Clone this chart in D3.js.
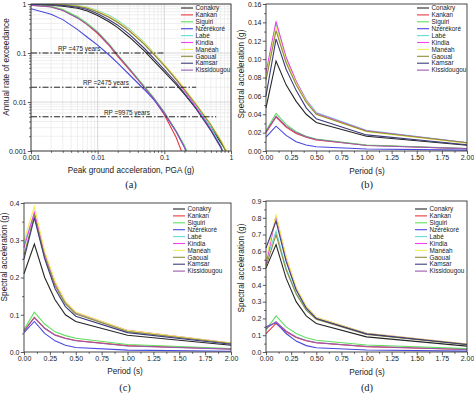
<!DOCTYPE html>
<html>
<head>
<meta charset="utf-8">
<script src="https://cdn.jsdelivr.net/npm/d3@7"></script>
<style>
  body { margin: 0; background: #fff; }
  text { font-family: "Liberation Sans", Arial, sans-serif; }
</style>
</head>
<body>
<script>
// Stations and their line colours
var stations = ["Conakry", "Kankan", "Siguiri", "Nzérékoré", "Labé", "Kindia", "Manéah", "Gaoual", "Kamsar", "Kissidougou"];
var colors = ["#262626", "#e8383d", "#5ee05e", "#4848e0", "#62dede", "#ee44ee", "#f2ee5c", "#8c8c3a", "#3c3c7c", "#9a5ab0"];

// (a) hazard curves: annual rate of exceedance at each PGA level
var pgaLevels = [0.001, 0.002, 0.003, 0.005, 0.007, 0.01, 0.015, 0.02, 0.03, 0.05, 0.07, 0.1, 0.15, 0.2, 0.3, 0.5, 0.7, 1.0];
var hazardRates = [
  [0.97, 0.94, 0.90, 0.82, 0.72, 0.58, 0.43, 0.33, 0.21, 0.11, 0.068, 0.041, 0.023, 0.0145, 0.0074, 0.003, 0.0015, 0.0007],      // Conakry
  [0.95, 0.88, 0.75, 0.52, 0.38, 0.25, 0.14, 0.085, 0.045, 0.02, 0.0115, 0.0055, 0.0019, 0.0007, 0.0001, 0.00001, 0.000001, 0.0000001], // Kankan
  [0.96, 0.90, 0.77, 0.55, 0.40, 0.27, 0.15, 0.092, 0.048, 0.021, 0.012, 0.0062, 0.0026, 0.0013, 0.00035, 0.00003, 0.000003, 0.0000003], // Siguiri
  [0.80, 0.62, 0.48, 0.30, 0.21, 0.145, 0.09, 0.062, 0.036, 0.018, 0.011, 0.0058, 0.0025, 0.0012, 0.0003, 0.00003, 0.000003, 0.0000003], // Nzérékoré
  [0.99, 0.98, 0.97, 0.93, 0.86, 0.74, 0.58, 0.46, 0.31, 0.165, 0.10, 0.058, 0.030, 0.018, 0.0085, 0.003, 0.0013, 0.0004],     // Labé
  [0.99, 0.97, 0.95, 0.90, 0.83, 0.70, 0.54, 0.43, 0.29, 0.155, 0.095, 0.056, 0.029, 0.017, 0.0078, 0.0027, 0.0012, 0.0004],   // Kindia
  [0.99, 0.98, 0.96, 0.92, 0.85, 0.72, 0.56, 0.44, 0.30, 0.16, 0.098, 0.058, 0.031, 0.019, 0.0092, 0.0035, 0.0017, 0.0007],    // Manéah
  [0.99, 0.97, 0.95, 0.90, 0.82, 0.69, 0.53, 0.42, 0.28, 0.15, 0.093, 0.055, 0.029, 0.018, 0.0088, 0.0034, 0.0016, 0.0006],    // Gaoual
  [0.98, 0.96, 0.93, 0.86, 0.77, 0.63, 0.47, 0.37, 0.24, 0.125, 0.077, 0.046, 0.025, 0.015, 0.0072, 0.0026, 0.0012, 0.0004],   // Kamsar
  [0.95, 0.87, 0.74, 0.52, 0.38, 0.26, 0.145, 0.09, 0.047, 0.02, 0.0118, 0.006, 0.0025, 0.0012, 0.0003, 0.00003, 0.000003, 0.0000003] // Kissidougou
];

// Return-period reference lines in (a)
var rpRates = [0.1, 0.02, 0.005];
var rpEndPga = [0.1, 0.3, 0.6];
var rpLabels = ["RP =475 years", "RP =2475 years", "RP =9975 years"];

// (b), (c), (d) uniform hazard spectra
var periods = [0, 0.1, 0.2, 0.3, 0.4, 0.5, 1.0, 2.0];
var sa475 = [
  [0.047, 0.098, 0.072, 0.054, 0.040, 0.031, 0.016, 0.0062],
  [0.020, 0.037, 0.026, 0.019, 0.015, 0.012, 0.0062, 0.0024],
  [0.022, 0.041, 0.029, 0.021, 0.016, 0.013, 0.0066, 0.0027],
  [0.015, 0.027, 0.017, 0.010, 0.0065, 0.0047, 0.0022, 0.0009],
  [0.082, 0.139, 0.101, 0.076, 0.056, 0.042, 0.0225, 0.0092],
  [0.085, 0.141, 0.102, 0.076, 0.055, 0.041, 0.022, 0.0088],
  [0.080, 0.135, 0.098, 0.074, 0.054, 0.040, 0.021, 0.0085],
  [0.077, 0.131, 0.096, 0.072, 0.053, 0.040, 0.0215, 0.009],
  [0.060, 0.122, 0.089, 0.066, 0.047, 0.035, 0.0175, 0.0068],
  [0.021, 0.038, 0.027, 0.020, 0.0155, 0.0125, 0.006, 0.0026]
];
var sa2475 = [
  [0.21, 0.29, 0.20, 0.14, 0.10, 0.082, 0.045, 0.018],
  [0.057, 0.093, 0.064, 0.046, 0.037, 0.031, 0.017, 0.008],
  [0.060, 0.107, 0.075, 0.054, 0.044, 0.037, 0.020, 0.0095],
  [0.052, 0.082, 0.050, 0.030, 0.018, 0.012, 0.005, 0.002],
  [0.29, 0.37, 0.26, 0.18, 0.13, 0.104, 0.057, 0.023],
  [0.28, 0.375, 0.265, 0.185, 0.135, 0.106, 0.058, 0.024],
  [0.30, 0.39, 0.27, 0.19, 0.135, 0.107, 0.058, 0.024],
  [0.26, 0.365, 0.255, 0.178, 0.13, 0.102, 0.055, 0.023],
  [0.25, 0.36, 0.25, 0.17, 0.122, 0.096, 0.052, 0.021],
  [0.055, 0.092, 0.063, 0.045, 0.036, 0.030, 0.016, 0.0078]
];
var sa9975 = [
  [0.50, 0.64, 0.44, 0.30, 0.215, 0.17, 0.09, 0.035],
  [0.11, 0.17, 0.12, 0.087, 0.067, 0.055, 0.032, 0.015],
  [0.13, 0.215, 0.15, 0.11, 0.085, 0.07, 0.042, 0.02],
  [0.15, 0.175, 0.11, 0.065, 0.038, 0.025, 0.012, 0.005],
  [0.54, 0.72, 0.50, 0.35, 0.255, 0.20, 0.108, 0.045],
  [0.52, 0.81, 0.56, 0.38, 0.27, 0.205, 0.112, 0.047],
  [0.55, 0.82, 0.57, 0.385, 0.272, 0.207, 0.112, 0.047],
  [0.51, 0.70, 0.49, 0.345, 0.25, 0.195, 0.105, 0.044],
  [0.62, 0.78, 0.54, 0.37, 0.262, 0.20, 0.108, 0.045],
  [0.14, 0.18, 0.125, 0.09, 0.069, 0.056, 0.033, 0.015]
];

var svg = d3.select("body").append("svg")
    .attr("width", 474)
    .attr("height", 393);

// Draw a bottom/left axis pair plus the closing box
function drawFrame(x, y, xMajor, xMinor, xFmt, yMajor, yMinor, yFmt) {
    var r = x.range(), t = y.range();
    var left = r[0], right = r[1], bottom = t[0], top = t[1];

    var xa = svg.append("g").attr("transform", "translate(0," + bottom + ")");
    xa.call(d3.axisBottom(x).tickValues(xMinor).tickSize(1.8).tickFormat(""));
    xa.call(g => g.append("g").call(d3.axisBottom(x).tickValues(xMajor).tickSize(3.2).tickFormat(xFmt)));
    var ya = svg.append("g").attr("transform", "translate(" + left + ",0)");
    ya.call(d3.axisLeft(y).tickValues(yMinor).tickSize(1.8).tickFormat(""));
    ya.call(g => g.append("g").call(d3.axisLeft(y).tickValues(yMajor).tickSize(3.2).tickFormat(yFmt)));

    svg.selectAll(".domain").remove();
    svg.selectAll(".tick line").attr("stroke", "#333").attr("stroke-width", 0.8);
    xa.selectAll("text").attr("font-size", 7).attr("fill", "#222").attr("dy", "0.6em").attr("y", 4.5);
    ya.selectAll("text").attr("font-size", 7).attr("fill", "#222").attr("x", -4.5);

    svg.append("rect")
        .attr("x", left).attr("y", top)
        .attr("width", right - left).attr("height", bottom - top)
        .attr("fill", "none").attr("stroke", "#333").attr("stroke-width", 0.9);
}

function drawLegend(lx, ly) {
    var leg = svg.append("g");
    stations.forEach(function (s, i) {
        var yy = ly + i * 6.9;
        leg.append("line")
            .attr("x1", lx).attr("x2", lx + 12)
            .attr("y1", yy).attr("y2", yy)
            .attr("stroke", colors[i]).attr("stroke-width", 1.1);
        leg.append("text")
            .attr("x", lx + 14.5).attr("y", yy + 2.2)
            .attr("font-size", 6.4).attr("fill", "#222")
            .text(s);
    });
}

function axisTitles(xTitle, xCx, xBase, yTitle, yCx, yCy, tag, tagBase) {
    svg.append("text").attr("x", xCx).attr("y", xBase)
        .attr("text-anchor", "middle").attr("font-size", 8.2).attr("fill", "#222").text(xTitle);
    svg.append("text")
        .attr("transform", "translate(" + yCx + "," + yCy + ") rotate(-90)")
        .attr("text-anchor", "middle").attr("font-size", 8.2).attr("fill", "#222").text(yTitle);
    svg.append("text").attr("x", xCx).attr("y", tagBase)
        .attr("text-anchor", "middle").attr("font-size", 10.5).attr("fill", "#222")
        .style("font-family", "'Liberation Serif', 'Times New Roman', serif").text(tag);
}

// ---------- (a) hazard curves ----------
var xa = d3.scaleLog().domain([0.001, 1]).range([31, 231]);
var ya = d3.scaleLog().domain([0.001, 1]).range([151, 4]);

var decadeMinor = [];
[0.001, 0.01, 0.1].forEach(function (d) {
    for (var k = 2; k <= 9; k++) decadeMinor.push(+(d * k).toPrecision(3));
});
var decadeMajor = [0.001, 0.01, 0.1, 1];

// grid
var grid = svg.append("g");
grid.selectAll(".gmx").data(decadeMinor).join("line")
    .attr("x1", d => xa(d)).attr("x2", d => xa(d)).attr("y1", 4).attr("y2", 151)
    .attr("stroke", "#e4e4e4").attr("stroke-width", 0.6);
grid.selectAll(".gmy").data(decadeMinor).join("line")
    .attr("y1", d => ya(d)).attr("y2", d => ya(d)).attr("x1", 31).attr("x2", 231)
    .attr("stroke", "#e4e4e4").attr("stroke-width", 0.6);
grid.selectAll(".gMx").data(decadeMajor).join("line")
    .attr("x1", d => xa(d)).attr("x2", d => xa(d)).attr("y1", 4).attr("y2", 151)
    .attr("stroke", "#c8c8c8").attr("stroke-width", 0.7);
grid.selectAll(".gMy").data(decadeMajor).join("line")
    .attr("y1", d => ya(d)).attr("y2", d => ya(d)).attr("x1", 31).attr("x2", 231)
    .attr("stroke", "#c8c8c8").attr("stroke-width", 0.7);

svg.append("clipPath").attr("id", "clipA").append("rect")
    .attr("x", 31).attr("y", 4).attr("width", 200).attr("height", 147);

var hazLine = d3.line().x((d, i) => xa(pgaLevels[i])).y(d => ya(d));
svg.append("g").attr("clip-path", "url(#clipA)")
    .selectAll("path").data(hazardRates).join("path")
    .attr("d", hazLine)
    .attr("fill", "none")
    .attr("stroke", (d, i) => colors[i])
    .attr("stroke-width", 1.1);

// return period lines
var rpLabelX = [58, 83, 104];
rpRates.forEach(function (r, i) {
    svg.append("line")
        .attr("x1", xa(0.001)).attr("x2", xa(rpEndPga[i]))
        .attr("y1", ya(r)).attr("y2", ya(r))
        .attr("stroke", "#111").attr("stroke-width", 0.9)
        .attr("stroke-dasharray", "6,2,1.5,2");
    svg.append("text")
        .attr("x", rpLabelX[i]).attr("y", ya(r) - 2)
        .attr("font-size", 6.4).attr("fill", "#222")
        .text(rpLabels[i]);
});

drawFrame(xa, ya, decadeMajor, decadeMinor, d3.format("~g"), decadeMajor, decadeMinor, d3.format("~g"));
drawLegend(181, 8);
axisTitles("Peak ground acceleration, PGA (g)", 131, 173, "Annual rate of exceedance", 9, 67, "(a)", 188);

// ---------- spectra panels ----------
var xTicks = d3.range(0, 2.01, 0.25);
var xMinorTicks = d3.range(0.125, 2, 0.25);

function spectrumPanel(data, left, right, top, bottom, yMax, yStep, yMinorStep, yFmt) {
    var x = d3.scaleLinear().domain([0, 2]).range([left, right]);
    var y = d3.scaleLinear().domain([0, yMax]).range([bottom, top]);
    var line = d3.line().x((d, i) => x(periods[i])).y(d => y(d));
    svg.append("g").selectAll("path").data(data).join("path")
        .attr("d", line)
        .attr("fill", "none")
        .attr("stroke", (d, i) => colors[i])
        .attr("stroke-width", 1.1);
    var yT = d3.range(0, yMax + yStep / 2, yStep);
    var yM = d3.range(yMinorStep, yMax, yStep);
    drawFrame(x, y, xTicks, xMinorTicks, d3.format(".2f"), yT, yM, d3.format(yFmt));
}

spectrumPanel(sa475, 266, 467, 4, 151, 0.16, 0.02, 0.01, ".2f");
drawLegend(417, 8);
axisTitles("Period (s)", 367, 174, "Spectral acceleration (g)", 244, 74, "(b)", 188);

spectrumPanel(sa2475, 24, 231, 203, 352, 0.4, 0.1, 0.05, ".1f");
drawLegend(173, 209);
axisTitles("Period (s)", 125, 374, "Spectral acceleration (g)", 7, 257, "(c)", 391);

spectrumPanel(sa9975, 266, 467, 201, 352, 0.9, 0.1, 0.05, ".1f");
drawLegend(415, 209);
axisTitles("Period (s)", 367, 375, "Spectral acceleration (g)", 244, 268, "(d)", 391);
</script>
</body>
</html>
